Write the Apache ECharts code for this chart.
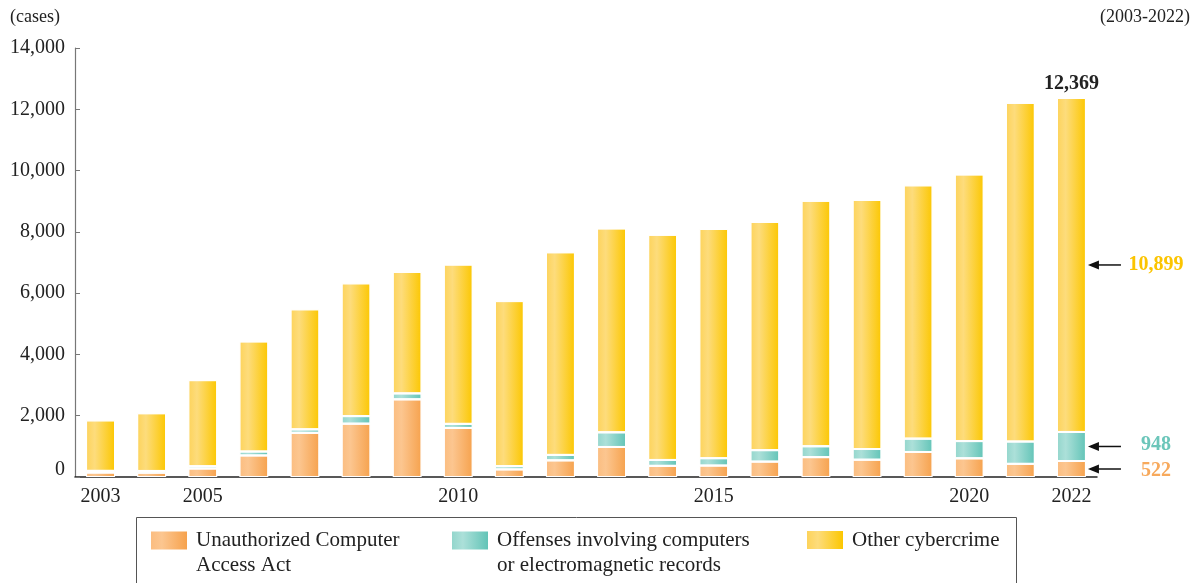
<!DOCTYPE html>
<html><head><meta charset="utf-8">
<script src="https://cdn.jsdelivr.net/npm/echarts@6/dist/echarts.min.js"></script>
<style>html,body{margin:0;padding:0;background:#fff}#c{width:1200px;height:583px}</style>
</head><body><div id="c"></div>
<script>
const years = ['2003','2004','2005','2006','2007','2008','2009','2010','2011','2012','2013','2014','2015','2016','2017','2018','2019','2020','2021','2022'];
const labeledYears = ['2003','2005','2010','2015','2020','2022'];
const unauthorized = [145,142,277,703,1442,1740,2534,1601,248,543,980,364,373,502,648,564,816,609,429,522];
const computerRecords = [55,55,73,129,113,247,195,133,105,178,478,192,240,374,355,349,436,563,729,948];
const otherCyber = [1649,1884,2811,3593,3918,4334,3961,5199,5388,6613,6655,7349,7483,7448,8011,8127,8267,8702,11051,10899];
const yTicks = [0,2000,4000,6000,8000,10000,12000,14000];
const seriesNames = ['Unauthorized Computer\nAccess Act','Offenses involving computers\nor electromagnetic records','Other cybercrime'];

const FONT = '"Liberation Serif", "DejaVu Serif", serif';
function grad(c0, c1, c2) {
  return new echarts.graphic.LinearGradient(0,0,1,0,[
    {offset:0,color:c0},{offset:0.3,color:c1},{offset:1,color:c2}]);
}
const colOrange = grad('#fbbd80','#fcc690','#f6a24d');
const colTeal = grad('#93d6cc','#ace0d9','#62c4b7');
const colYellow = grad('#fdd35a','#fddc7c','#fcc700');

const chart = echarts.init(document.getElementById('c'), null, {renderer:'canvas'});
function mkSeries(name, data, color) {
  return {
    name, type:'bar', stack:'t', data, barWidth:29,
    itemStyle:{color, borderColor:'#ffffff', borderWidth:1},
    emphasis:{disabled:true}
  };
}
// tall icon: visible 36x18 swatch near the top; tiny specks keep the box 50px tall so it lines up with the first text line
const tallIcon = 'path://M0,0h0.01v0.01h-0.01z M0,3.5h36v18h-36z M0,49.99h0.01v0.01h-0.01z';
function mkLegend(name, left, twoLine) {
  return {
    data:[name], left, top: twoLine ? 528 : 527.5, padding:0,
    itemWidth:36, itemHeight: twoLine ? 50 : 18, itemGap:0,
    icon: twoLine ? tallIcon : 'rect', selectedMode:false,
    itemStyle:{borderWidth:0},
    textStyle:{fontFamily:FONT, fontSize:21, color:'#222', lineHeight:25, padding:[0,0,0,4]}
  };
}
chart.setOption({
  animation:false,
  grid:{left:75, right:103, top:48, bottom:106},
  legend:[
    mkLegend(seriesNames[0],151,true),
    mkLegend(seriesNames[1],452,true),
    mkLegend(seriesNames[2],807,false)
  ],
  xAxis:{type:'category', data:years,
    axisLine:{lineStyle:{color:'#222', width:1.5}},
    axisTick:{show:false},
    axisLabel:{interval:(i,v)=>labeledYears.includes(v), fontFamily:FONT, fontSize:20, color:'#222', margin:10}
  },
  yAxis:{type:'value', min:yTicks[0], max:yTicks[yTicks.length-1], interval:2000,
    splitLine:{show:false},
    axisLine:{show:true, lineStyle:{color:'#777', width:1.2}},
    axisTick:{show:true, inside:true, length:5, lineStyle:{color:'#777'}},
    axisLabel:{fontFamily:FONT, fontSize:20, color:'#222', margin:10,
      formatter:v=> v===0 ? '{z|0}' : v.toLocaleString('en-US'),
      rich:{z:{fontFamily:FONT, fontSize:20, color:'#222', padding:[0,0,14,0]}}}
  },
  series:[
    mkSeries(seriesNames[0], unauthorized, colOrange),
    mkSeries(seriesNames[1], computerRecords, colTeal),
    mkSeries(seriesNames[2], otherCyber, colYellow)
  ]
});

// annotations computed via the chart scales
const last = years.length - 1;
const a = unauthorized[last], b = computerRecords[last], c = otherCyber[last];
const total = a + b + c;
const pTop = chart.convertToPixel({seriesIndex:0}, [last, total]);
const pA = chart.convertToPixel({seriesIndex:0}, [last, a/2]);
const pB = chart.convertToPixel({seriesIndex:0}, [last, a + b/2]);
const pC = chart.convertToPixel({seriesIndex:0}, [last, a + b + c/2]);
const barRight = pTop[0] + 15.5;
function arrow(y) {
  return [
    {type:'line', shape:{x1:barRight+4, y1:y, x2:barRight+34, y2:y}, style:{stroke:'#111', lineWidth:1.5}},
    {type:'polygon', shape:{points:[[barRight+1,y],[barRight+12,y-4.5],[barRight+12,y+4.5]]}, style:{fill:'#111'}}
  ];
}
function lbl(txt, y, color) {
  return {type:'text', x:barRight+69, y:y, style:{text:txt, fill:color, font:'bold 20px '+FONT, textAlign:'center', textVerticalAlign:'middle'}};
}
const fmt = n => n.toLocaleString('en-US');
chart.setOption({graphic:[
  {type:'text', x:10, y:8, style:{text:'(cases)', fill:'#222', font:'18px '+FONT}},
  {type:'text', x:1190, y:8, style:{text:'(2003-2022)', fill:'#222', font:'18px '+FONT, textAlign:'right'}},
  {type:'text', x:pTop[0], y:pTop[1]-14, style:{text:fmt(total), fill:'#222', font:'bold 20px '+FONT, textAlign:'center', textVerticalAlign:'middle'}},
  ...arrow(pC[1]), ...arrow(pB[1]), ...arrow(pA[1]),
  lbl(fmt(c), pC[1], '#fbc400'),
  lbl(fmt(b), pB[1]-2, '#6cc6ba'),
  lbl(fmt(a), pA[1]+2, '#f7a95c'),
  {type:'rect', shape:{x:136.5, y:517.5, width:880, height:80}, style:{fill:null, stroke:'#555', lineWidth:1}, z:-1}
]});
</script></body></html>
